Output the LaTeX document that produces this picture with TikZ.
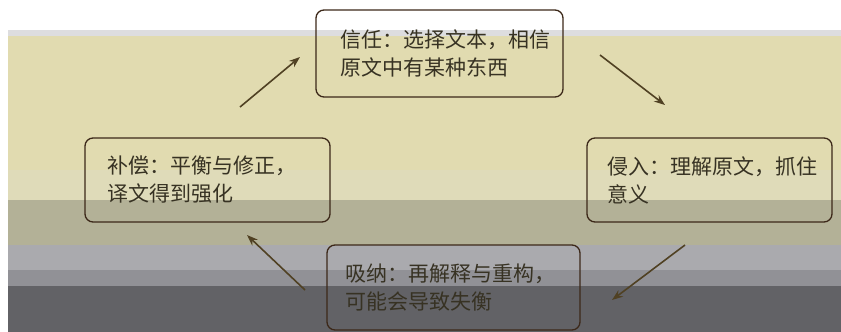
\documentclass[tikz,border=0pt]{standalone}
\usepackage{fontspec}
\setmainfont{Noto Sans CJK SC}
\usetikzlibrary{arrows.meta}
\definecolor{bgstrip}{RGB}{221,221,223}
\definecolor{bgbeige}{RGB}{225,219,176}
\definecolor{bglight}{RGB}{223,219,185}
\definecolor{bgolive}{RGB}{179,177,151}
\definecolor{bggrayA}{RGB}{170,170,174}
\definecolor{bggrayB}{RGB}{145,145,150}
\definecolor{bgdark}{RGB}{98,98,102}
\definecolor{boxline}{RGB}{60,40,25}
\definecolor{txt}{RGB}{55,50,35}
\definecolor{arr}{RGB}{80,65,35}
\tikzset{
  stagebox/.style={draw=boxline, line width=1.3pt, rounded corners=8pt,
    align=left, text=txt, font=\fontsize{21pt}{28pt}\selectfont,
    inner ysep=4pt},
  flow/.style={draw=arr, line width=1.6pt, -{Stealth[length=11pt,width=8pt]}}
}
\begin{document}
\begin{tikzpicture}[x=1pt,y=-1pt]
\useasboundingbox (0,0) rectangle (841,332);
% background bands
\fill[white] (0,0) rectangle (841,332);
\fill[bgstrip] (8,30) rectangle (841,36);
\fill[bgbeige] (8,36) rectangle (841,170);
\fill[bglight] (8,170) rectangle (841,200);
\fill[bgolive] (8,200) rectangle (841,245);
\fill[bggrayA] (8,245) rectangle (841,270);
\fill[bggrayB] (8,270) rectangle (841,286);
\fill[bgdark] (8,286) rectangle (841,332);
% boxes
\node[stagebox, minimum width=247pt, minimum height=87pt, inner xsep=24pt, text width=199pt]
  (trust) at (439.5,53.5) {信任：选择文本，相信\\原文中有某种东西};
\node[stagebox, minimum width=245pt, minimum height=84pt, inner xsep=20pt, text width=205pt]
  (aggr) at (709.5,180) {侵入：理解原文，抓住\\意义};
\node[stagebox, minimum width=253pt, minimum height=85pt, inner xsep=18pt, text width=217pt]
  (incorp) at (453.5,287.5) {吸纳：再解释与重构，\\可能会导致失衡};
\node[stagebox, minimum width=245pt, minimum height=84pt, inner xsep=22pt, text width=201pt]
  (comp) at (207.5,180) {补偿：平衡与修正，\\译文得到强化};
% arrow end points
\coordinate (a1s) at (240,107); \coordinate (a1e) at (300,57);
\coordinate (a2s) at (600,55);  \coordinate (a2e) at (665,105);
\coordinate (a3s) at (685,245); \coordinate (a3e) at (612,300);
\coordinate (a4s) at (305,290); \coordinate (a4e) at (247,235);
\draw[flow] (a1s) -- (a1e);
\draw[flow] (a2s) -- (a2e);
\draw[flow] (a3s) -- (a3e);
\draw[flow] (a4s) -- (a4e);
\end{tikzpicture}
\end{document}
